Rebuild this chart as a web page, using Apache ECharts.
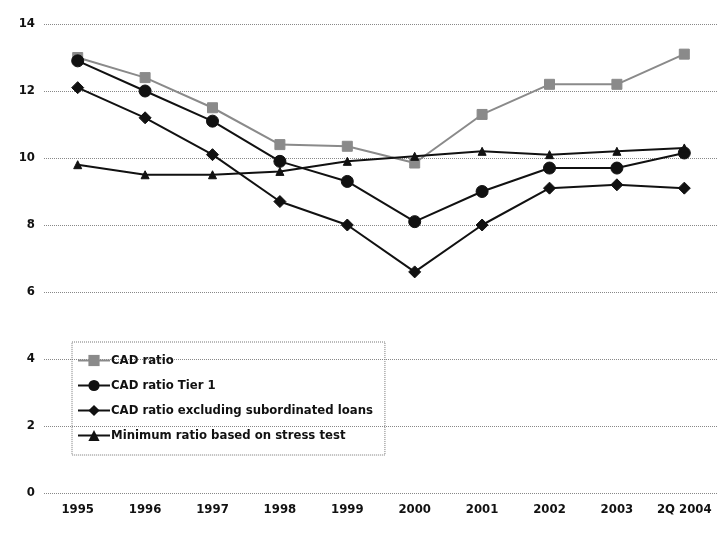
<!DOCTYPE html>
<html>
<head>
<meta charset="utf-8">
<script src="https://cdn.jsdelivr.net/npm/echarts@6/dist/echarts.min.js"></script>
<style>
  html, body { margin: 0; padding: 0; background: #fff; }
  #chart { width: 718px; height: 533px; }
</style>
</head>
<body>
<div id="chart"></div>
<script>
// Capital adequacy ratios, 1995 – 2Q 2004 (%)
const years = ['1995', '1996', '1997', '1998', '1999', '2000', '2001', '2002', '2003', '2Q 2004'];
const cadRatio = [13.0, 12.4, 11.5, 10.4, 10.35, 9.85, 11.3, 12.2, 12.2, 13.1];
const cadTier1 = [12.9, 12.0, 11.1, 9.9, 9.3, 8.1, 9.0, 9.7, 9.7, 10.15];
const cadExclSubLoans = [12.1, 11.2, 10.1, 8.7, 8.0, 6.6, 8.0, 9.1, 9.2, 9.1];
const minStressRatio = [9.8, 9.5, 9.5, 9.6, 9.9, 10.05, 10.2, 10.1, 10.2, 10.3];
const yTicks = { min: 0, max: 14, step: 2 };

const font = '"DejaVu Sans Condensed", "Liberation Sans Narrow", sans-serif';

const chart = echarts.init(document.getElementById('chart'), null, { renderer: 'canvas' });

function lineSeries(name, data, color, symbol, size) {
  return {
    name: name,
    type: 'line',
    data: data,
    symbol: symbol,
    symbolSize: size,
    lineStyle: { color: color, width: 2 },
    itemStyle: { color: color, borderColor: color },
    emphasis: { disabled: true },
    animation: false
  };
}

chart.setOption({
  backgroundColor: '#ffffff',
  textStyle: { fontFamily: font },
  grid: { left: 44, right: 0, top: 24, bottom: 40, containLabel: false },
  legend: {
    orient: 'vertical',
    left: 72,
    top: 342,
    padding: [12, 12, 13, 5],
    itemGap: 12,
    itemWidth: 32,
    itemHeight: 14,
    borderColor: '#777',
    borderWidth: 1,
    borderType: 'dotted',
    textStyle: { fontFamily: font, fontSize: 13, fontWeight: 'bold', color: '#111', padding: [0, 0, 0, -4] },
    data: ['CAD ratio', 'CAD ratio Tier 1', 'CAD ratio excluding subordinated loans', 'Minimum ratio based on stress test']
  },
  xAxis: {
    type: 'category',
    data: years,
    boundaryGap: true,
    axisLine: { show: false },
    axisTick: { show: false },
    axisLabel: { interval: 0, fontFamily: font, fontSize: 13, fontWeight: 'bold', color: '#111', margin: 10 },
    splitLine: { show: false }
  },
  yAxis: {
    type: 'value',
    min: yTicks.min,
    max: yTicks.max,
    interval: yTicks.step,
    axisLine: { show: false },
    axisTick: { show: false },
    axisLabel: { fontFamily: font, fontSize: 13, fontWeight: 'bold', color: '#111', margin: 9 },
    splitLine: { show: true, lineStyle: { color: '#888', type: 'dotted', width: 1 } }
  },
  series: [
    lineSeries('CAD ratio', cadRatio, '#8a8a8a', 'rect', 10),
    lineSeries('CAD ratio Tier 1', cadTier1, '#111111', 'circle', 12),
    lineSeries('CAD ratio excluding subordinated loans', cadExclSubLoans, '#111111', 'diamond', 12),
    lineSeries('Minimum ratio based on stress test', minStressRatio, '#111111', 'triangle', 8)
  ]
});
</script>
</body>
</html>
